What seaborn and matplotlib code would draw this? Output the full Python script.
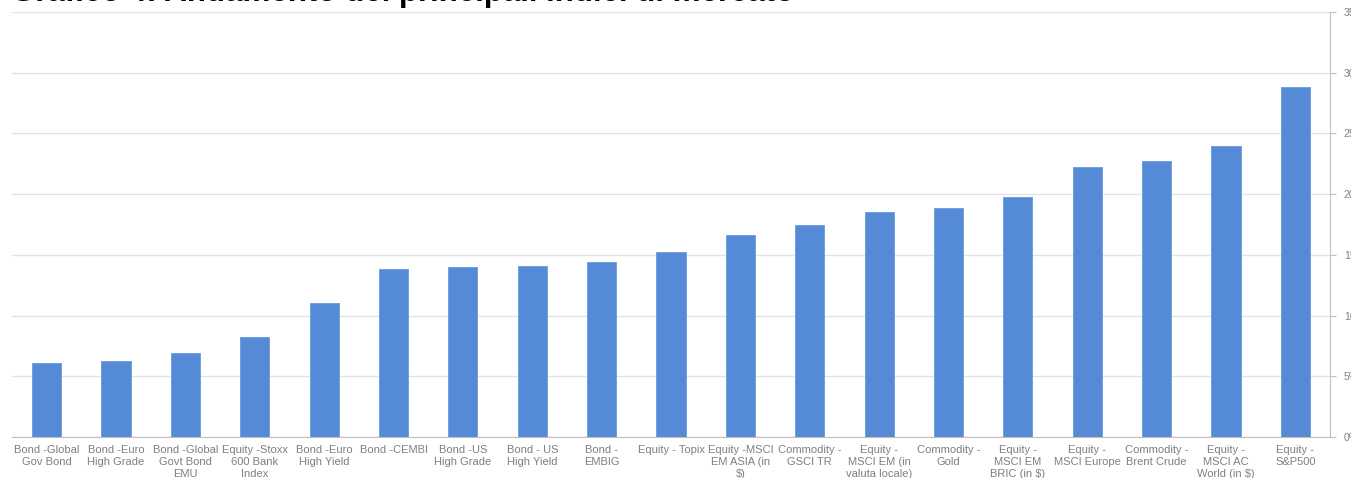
import matplotlib
matplotlib.use("Agg")
import matplotlib.pyplot as plt
import seaborn as sns
import pandas as pd
from matplotlib.ticker import FixedLocator

categories = [
    "Bond -Global\nGov Bond", "Bond -Euro\nHigh Grade", "Bond -Global\nGovt Bond\nEMU",
    "Equity -Stoxx\n600 Bank\nIndex", "Bond -Euro\nHigh Yield", "Bond -CEMBI",
    "Bond -US\nHigh Grade", "Bond - US\nHigh Yield", "Bond -\nEMBIG", "Equity - Topix",
    "Equity -MSCI\nEM ASIA (in\n$)", "Commodity -\nGSCI TR", "Equity -\nMSCI EM (in\nvaluta locale)",
    "Commodity -\nGold", "Equity -\nMSCI EM\nBRIC (in $)", "Equity -\nMSCI Europe",
    "Commodity -\nBrent Crude", "Equity -\nMSCI AC\nWorld (in $)", "Equity -\nS&P500",
]
values = [6.1, 6.3, 6.9, 8.2, 11.0, 13.8, 14.0, 14.1, 14.4, 15.2,
          16.6, 17.5, 18.5, 18.9, 19.8, 22.2, 22.7, 24.0, 28.8]
y_ticks = [0, 5, 10, 15, 20, 25, 30, 35]
y_labels = [f"{t}%" for t in y_ticks]
title = "Grafico 4: Andamento dei principali indici di mercato"

df = pd.DataFrame({"cat": categories, "val": values})

sns.set_style("white")
plt.rcParams["font.family"] = ["Liberation Sans", "DejaVu Sans"]

fig = plt.figure(figsize=(13.51, 4.78), dpi=100)
ax = fig.add_axes([12/1351, 1-437/478, (1330-12)/1351, (437-12)/478])

sns.barplot(data=df, x="cat", y="val", color="#558ad6", width=0.42, ax=ax,
            saturation=1, edgecolor="#6a9ade", linewidth=0.6)

ax.set_ylim(0, 35)
ax.set_xlim(-0.5, len(categories) - 0.5)
ax.set_yticks(y_ticks)
ax.set_yticklabels(y_labels)
ax.yaxis.tick_right()
ax.tick_params(axis="y", direction="out", length=4, color="#bfbfbf",
               labelsize=7.5, labelcolor="#7f7f7f", pad=6)
ax.grid(axis="y", color="#e3e3e3", linewidth=1)
ax.set_axisbelow(True)

ax.set_xticks(range(len(categories)))
ax.set_xticklabels(categories)
ax.tick_params(axis="x", which="major", length=0, labelsize=8.0,
               labelcolor="#7f7f7f", pad=6)
ax.xaxis.set_minor_locator(FixedLocator([i - 0.5 for i in range(len(categories) + 1)]))
ax.tick_params(axis="x", which="minor", direction="out", length=4, color="#bfbfbf")
for lbl in ax.get_xticklabels():
    lbl.set_linespacing(1.22)

ax.set_xlabel("")
ax.set_ylabel("")
for s in ["top", "left"]:
    ax.spines[s].set_visible(False)
ax.spines["bottom"].set_color("#bfbfbf")
ax.spines["right"].set_color("#bfbfbf")
ax.spines["right"].set_visible(True)

fig.text(11/1351, 1 - 1/478, title, fontsize=22.5, fontweight="bold",
         color="#000000", ha="left", va="baseline")

fig.savefig("out.png", dpi=100)
